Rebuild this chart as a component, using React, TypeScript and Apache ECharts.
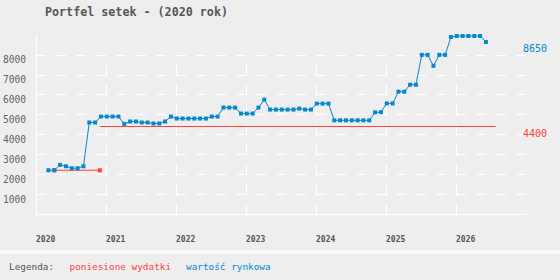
import React, { useEffect, useRef } from "react";
import * as echarts from "echarts";

// Market value ("wartość rynkowa"), monthly
const blueMonths = [
  "2020-03", "2020-04", "2020-05", "2020-06", "2020-07", "2020-08", "2020-09", "2020-10", "2020-11", "2020-12",
  "2021-01", "2021-02", "2021-03", "2021-04", "2021-05", "2021-06", "2021-07", "2021-08", "2021-09", "2021-10", "2021-11", "2021-12",
  "2022-01", "2022-02", "2022-03", "2022-04", "2022-05", "2022-06", "2022-07", "2022-08", "2022-09", "2022-10", "2022-11", "2022-12",
  "2023-01", "2023-02", "2023-03", "2023-04", "2023-05", "2023-06", "2023-07", "2023-08", "2023-09", "2023-10", "2023-11", "2023-12",
  "2024-01", "2024-02", "2024-03", "2024-04", "2024-05", "2024-06", "2024-07", "2024-08", "2024-09", "2024-10", "2024-11", "2024-12",
  "2025-01", "2025-02", "2025-03", "2025-04", "2025-05", "2025-06", "2025-07", "2025-08", "2025-09", "2025-10", "2025-11", "2025-12",
  "2026-01", "2026-02", "2026-03", "2026-04", "2026-05", "2026-06",
];
const blueValues = [
  2200, 2200, 2470, 2400, 2300, 2300, 2400, 4600, 4600, 4900,
  4900, 4900, 4900, 4530, 4650, 4650, 4600, 4600, 4550, 4550, 4650, 4900,
  4800, 4800, 4800, 4800, 4800, 4800, 4900, 4900, 5350, 5350, 5350, 5050,
  5050, 5050, 5350, 5750, 5250, 5250, 5250, 5250, 5250, 5300, 5250, 5250,
  5550, 5550, 5550, 4710, 4710, 4710, 4710, 4710, 4710, 4710, 5110, 5120,
  5560, 5560, 6150, 6150, 6500, 6500, 8000, 8000, 7450, 8000, 8000, 8900,
  8950, 8950, 8950, 8950, 8950, 8650,
];

// Incurred expenses ("poniesione wydatki")
const redDates1 = ["2020-04-05", "2020-11-29"];
const redValues1 = [2200, 2200];
const redDates2 = ["2020-11-29", "2026-07-25"];
const redValues2 = [4400, 4400];

const yearLabels = ["2020", "2021", "2022", "2023", "2024", "2025", "2026"];
const yTickStep = 1000;

const TITLE = "Portfel setek - (2020 rok)";
const LEGEND_TITLE = "Legenda:";
const LEGEND_RED = "poniesione wydatki";
const LEGEND_BLUE = "wartość rynkowa";

const RED = "#ff4040";
const BLUE = "#0688cc";
const MONO = "'DejaVu Sans Mono', monospace";

function toMonths(s: string): number {
  const parts = s.split("-").map(Number);
  const y = parts[0];
  const m = parts[1];
  const d = parts.length > 2 ? parts[2] : 5;
  return (y - 2020) * 12 + (m - 1) + (d - 1) / 30;
}

export default function App() {
  const ref = useRef<HTMLDivElement>(null);
  useEffect(() => {
    if (!ref.current) return;
    const chart = echarts.init(ref.current, undefined, { renderer: "svg" });
    const blueData = blueMonths.map((d, i) => [toMonths(d), blueValues[i]]);
    const red1 = redDates1.map((d, i) => [toMonths(d), redValues1[i]]);
    const red2 = redDates2.map((d, i) => [toMonths(d), redValues2[i]]);
    const vDash = [0, 29, 12, 8, 12, 8, 12, 8, 12, 8, 12, 8, 12, 8, 12, 8, 12, 8, 12, 8];
    const endLabel = (color: string) => ({
      show: true,
      position: [-3, 7],
      align: "left",
      verticalAlign: "middle",
      color,
      fontFamily: MONO,
      fontSize: 10,
      formatter: (p: any) => String(p.value),
    });
    chart.setOption({
      animation: false,
      backgroundColor: "#eeeeee",
      grid: { left: 36, top: 35, width: 490, height: 179, containLabel: false },
      xAxis: {
        type: "value",
        min: 0,
        max: 84,
        interval: 12,
        axisLine: { show: true, lineStyle: { color: "#ffffff", width: 1 } },
        axisTick: { show: true, length: 2, lineStyle: { color: "#ffffff" } },
        axisLabel: {
          formatter: (_v: number, idx: number) => yearLabels[idx] ?? "",
          showMaxLabel: false,
          align: "left",
          verticalAlign: "middle",
          margin: 25,
          fontFamily: MONO,
          fontWeight: "bold",
          fontSize: 8,
          color: "#555555",
        },
        splitLine: {
          show: true,
          showMinLine: false,
          showMaxLine: false,
          lineStyle: { color: "#ffffff", width: 1, type: vDash },
        },
      },
      yAxis: {
        type: "value",
        min: 0,
        max: 9000,
        interval: yTickStep,
        axisLine: { show: true, lineStyle: { color: "#ffffff", width: 1 } },
        axisTick: { show: false },
        axisLabel: {
          formatter: (v: number) => String(v),
          showMinLabel: false,
          showMaxLabel: false,
          align: "left",
          verticalAlign: "top",
          margin: 33,
          fontFamily: MONO,
          fontSize: 9.6,
          color: "#666666",
        },
        splitLine: {
          show: true,
          showMinLine: false,
          showMaxLine: false,
          lineStyle: { color: "#ffffff", width: 1, type: [10, 10] },
        },
      },
      series: [
        {
          type: "line",
          data: red1,
          symbol: "rect",
          symbolSize: 4,
          showSymbol: true,
          lineStyle: { color: RED, width: 1.2 },
          itemStyle: { color: RED },
        },
        {
          type: "line",
          data: red2,
          showSymbol: false,
          symbol: "none",
          lineStyle: { color: RED, width: 1.2 },
          itemStyle: { color: RED },
          markPoint: {
            symbol: "rect",
            symbolSize: 0,
            data: [{ coord: [84, redValues2[redValues2.length - 1]], value: redValues2[redValues2.length - 1] }],
            label: endLabel(RED),
          },
        },
        {
          type: "line",
          data: blueData,
          symbol: "rect",
          symbolSize: 4,
          showSymbol: true,
          lineStyle: { color: BLUE, width: 1 },
          itemStyle: { color: BLUE },
          markPoint: {
            symbol: "rect",
            symbolSize: 0,
            data: [{ coord: [84, blueValues[blueValues.length - 1]], value: blueValues[blueValues.length - 1] }],
            label: endLabel(BLUE),
          },
        },
      ],
      graphic: [
        {
          type: "text",
          x: 45,
          y: 12,
          style: {
            text: TITLE,
            fill: "#555555",
            font: `bold 11.7px ${MONO}`,
            verticalAlign: "middle",
            align: "left",
          },
        },
        {
          type: "rect",
          shape: { x: 0, y: 250, width: 560, height: 4 },
          style: { fill: "#f9f9f9" },
        },
        {
          type: "text",
          x: 9,
          y: 266.5,
          style: { text: LEGEND_TITLE, fill: "#555555", font: `9.4px ${MONO}`, verticalAlign: "middle", align: "left" },
        },
        {
          type: "text",
          x: 69.5,
          y: 266.5,
          style: { text: LEGEND_RED, fill: RED, font: `9.4px ${MONO}`, verticalAlign: "middle", align: "left" },
        },
        {
          type: "text",
          x: 186,
          y: 266.5,
          style: { text: LEGEND_BLUE, fill: BLUE, font: `9.4px ${MONO}`, verticalAlign: "middle", align: "left" },
        },
      ],
    });
    return () => chart.dispose();
  }, []);
  return (
    <div
      ref={ref}
      style={{ position: "fixed", left: 0, top: 0, width: 560, height: 280 }}
    />
  );
}
